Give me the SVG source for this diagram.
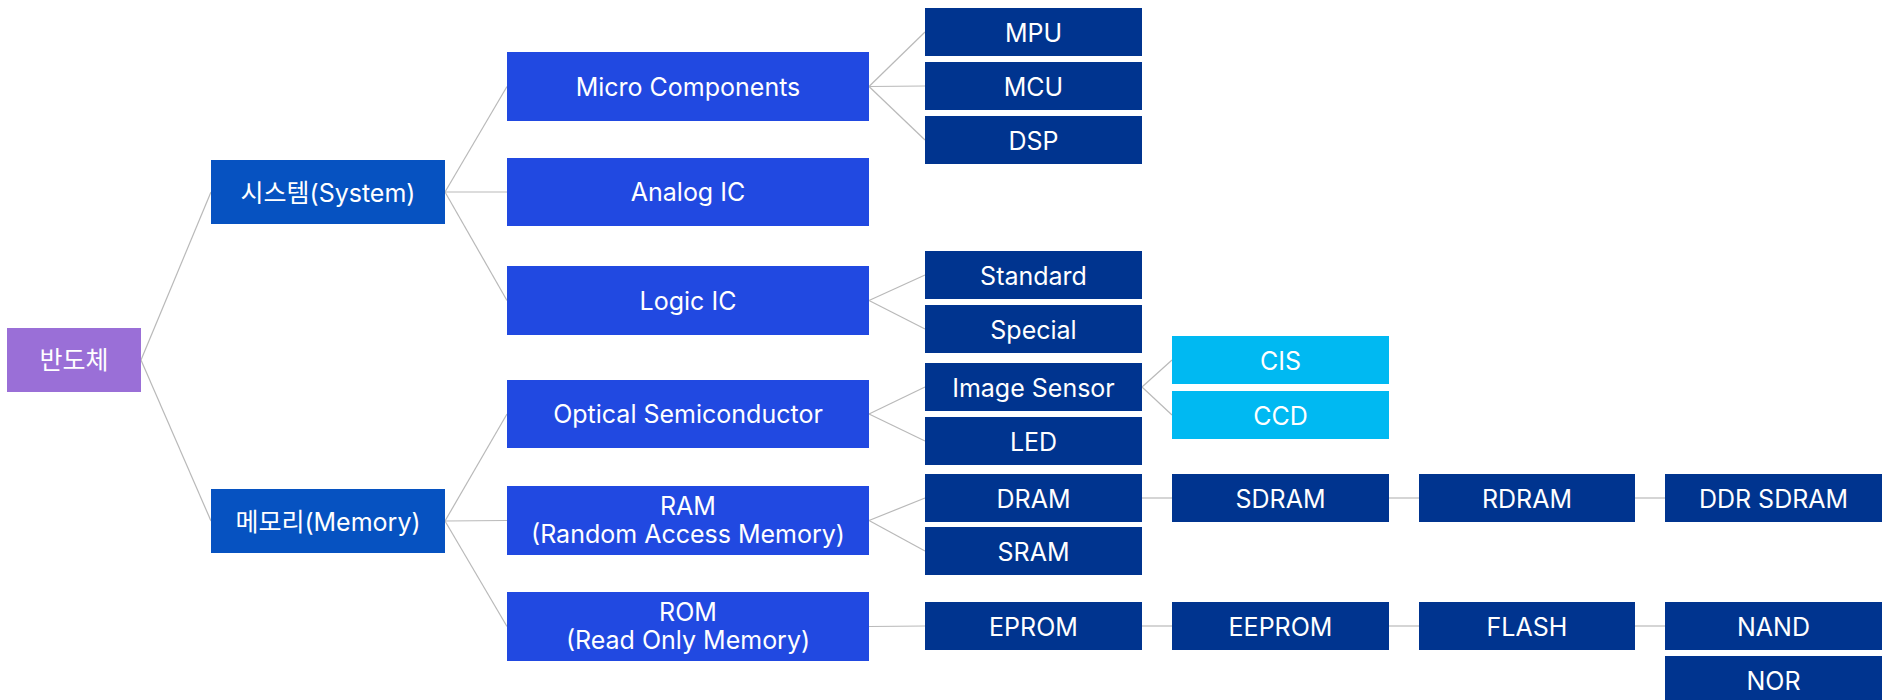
<svg xmlns="http://www.w3.org/2000/svg" width="1887" height="700" viewBox="0 0 1887 700">
<style>
.root{fill:#9a6fd7}
.l1{fill:#0652c1}
.l2{fill:#2149e1}
.l3{fill:#00348f}
.l4{fill:#00b9f2}
text{fill:#ffffff;font-family:Inter,"Noto Sans CJK KR",sans-serif;font-size:25px;text-anchor:middle}
#connectors line{stroke:#b9b9b9;stroke-width:1.2;fill:none}
</style>
<rect width="1887" height="700" fill="#ffffff"/>
<g id="connectors">
<line x1="141" y1="360" x2="211" y2="192"/>
<line x1="141" y1="360" x2="211" y2="521"/>
<line x1="445" y1="192" x2="507" y2="86.5"/>
<line x1="445" y1="192" x2="507" y2="192"/>
<line x1="445" y1="192" x2="507" y2="300.5"/>
<line x1="445" y1="521" x2="507" y2="414"/>
<line x1="445" y1="521" x2="507" y2="520.5"/>
<line x1="445" y1="521" x2="507" y2="626.5"/>
<line x1="869" y1="86.5" x2="925" y2="32"/>
<line x1="869" y1="86.5" x2="925" y2="86"/>
<line x1="869" y1="86.5" x2="925" y2="140"/>
<line x1="869" y1="300.5" x2="925" y2="275"/>
<line x1="869" y1="300.5" x2="925" y2="329"/>
<line x1="869" y1="414" x2="925" y2="387"/>
<line x1="869" y1="414" x2="925" y2="441"/>
<line x1="1142" y1="387" x2="1172" y2="360"/>
<line x1="1142" y1="387" x2="1172" y2="415"/>
<line x1="869" y1="520.5" x2="925" y2="498"/>
<line x1="869" y1="520.5" x2="925" y2="551"/>
<line x1="1142" y1="498" x2="1172" y2="498"/>
<line x1="1389" y1="498" x2="1419" y2="498"/>
<line x1="1635" y1="498" x2="1665" y2="498"/>
<line x1="869" y1="626.5" x2="925" y2="626"/>
<line x1="1142" y1="626" x2="1172" y2="626"/>
<line x1="1389" y1="626" x2="1419" y2="626"/>
<line x1="1635" y1="626" x2="1665" y2="626"/>
</g>
<g id="n-root"><rect class="root" x="7" y="328" width="134" height="64"/><text x="74" y="369">반도체</text></g>
<g id="n-system"><rect class="l1" x="211" y="160" width="234" height="64"/><text x="328" y="201.5">시스템(System)</text></g>
<g id="n-memory"><rect class="l1" x="211" y="489" width="234" height="64"/><text x="328" y="530.5">메모리(Memory)</text></g>
<g id="n-micro"><rect class="l2" x="507" y="52" width="362" height="69"/><text x="688" y="95.5">Micro Components</text></g>
<g id="n-analog"><rect class="l2" x="507" y="158" width="362" height="68"/><text x="688" y="201">Analog IC</text></g>
<g id="n-logic"><rect class="l2" x="507" y="266" width="362" height="69"/><text x="688" y="309.5">Logic IC</text></g>
<g id="n-optical"><rect class="l2" x="507" y="380" width="362" height="68"/><text x="688" y="423">Optical Semiconductor</text></g>
<g id="n-ram"><rect class="l2" x="507" y="486" width="362" height="69"/><text x="688" y="515">RAM</text><text x="688" y="543">(Random Access Memory)</text></g>
<g id="n-rom"><rect class="l2" x="507" y="592" width="362" height="69"/><text x="688" y="621">ROM</text><text x="688" y="649">(Read Only Memory)</text></g>
<g id="n-mpu"><rect class="l3" x="925" y="8" width="217" height="48"/><text x="1033.5" y="41.5">MPU</text></g>
<g id="n-mcu"><rect class="l3" x="925" y="62" width="217" height="48"/><text x="1033.5" y="95.5">MCU</text></g>
<g id="n-dsp"><rect class="l3" x="925" y="116" width="217" height="48"/><text x="1033.5" y="149.5">DSP</text></g>
<g id="n-standard"><rect class="l3" x="925" y="251" width="217" height="48"/><text x="1033.5" y="284.5">Standard</text></g>
<g id="n-special"><rect class="l3" x="925" y="305" width="217" height="48"/><text x="1033.5" y="338.5">Special</text></g>
<g id="n-imagesensor"><rect class="l3" x="925" y="363" width="217" height="48"/><text x="1033.5" y="396.5">Image Sensor</text></g>
<g id="n-led"><rect class="l3" x="925" y="417" width="217" height="48"/><text x="1033.5" y="450.5">LED</text></g>
<g id="n-dram"><rect class="l3" x="925" y="474" width="217" height="48"/><text x="1033.5" y="507.5">DRAM</text></g>
<g id="n-sram"><rect class="l3" x="925" y="527" width="217" height="48"/><text x="1033.5" y="560.5">SRAM</text></g>
<g id="n-eprom"><rect class="l3" x="925" y="602" width="217" height="48"/><text x="1033.5" y="635.5">EPROM</text></g>
<g id="n-cis"><rect class="l4" x="1172" y="336" width="217" height="48"/><text x="1280.5" y="369.5">CIS</text></g>
<g id="n-ccd"><rect class="l4" x="1172" y="391" width="217" height="48"/><text x="1280.5" y="424.5">CCD</text></g>
<g id="n-sdram"><rect class="l3" x="1172" y="474" width="217" height="48"/><text x="1280.5" y="507.5">SDRAM</text></g>
<g id="n-rdram"><rect class="l3" x="1419" y="474" width="216" height="48"/><text x="1527" y="507.5">RDRAM</text></g>
<g id="n-ddrsdram"><rect class="l3" x="1665" y="474" width="217" height="48"/><text x="1773.5" y="507.5">DDR SDRAM</text></g>
<g id="n-eeprom"><rect class="l3" x="1172" y="602" width="217" height="48"/><text x="1280.5" y="635.5">EEPROM</text></g>
<g id="n-flash"><rect class="l3" x="1419" y="602" width="216" height="48"/><text x="1527" y="635.5">FLASH</text></g>
<g id="n-nand"><rect class="l3" x="1665" y="602" width="217" height="48"/><text x="1773.5" y="635.5">NAND</text></g>
<g id="n-nor"><rect class="l3" x="1665" y="656" width="217" height="48"/><text x="1773.5" y="689.5">NOR</text></g>
</svg>
